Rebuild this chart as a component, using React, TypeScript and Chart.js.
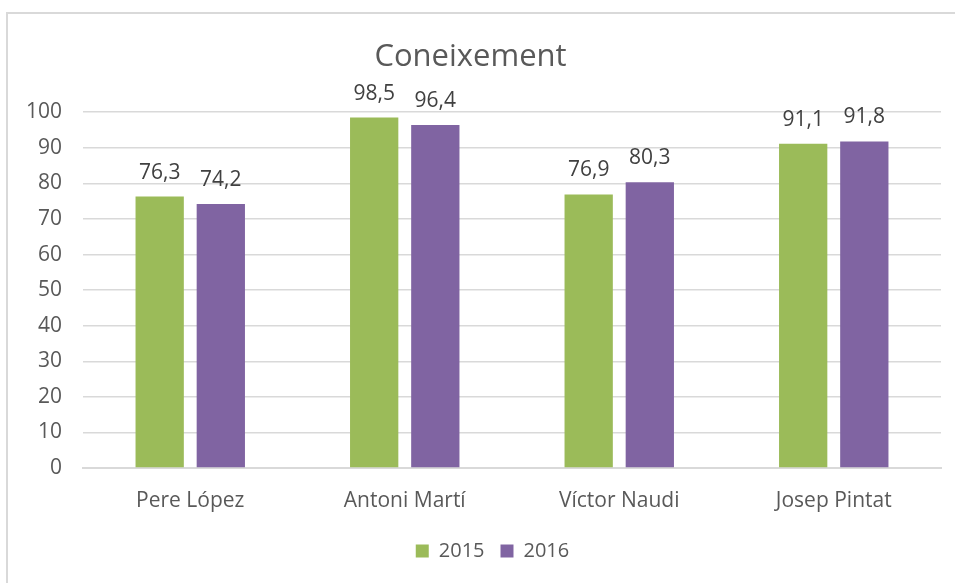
import React, { useEffect, useRef } from "react";
import { Chart, registerables } from "chart.js";

Chart.register(...registerables);

const categories = ["Pere López", "Antoni Martí", "Víctor Naudi", "Josep Pintat"];
const series2015 = [76.3, 98.5, 76.9, 91.1];
const series2016 = [74.2, 96.4, 80.3, 91.8];
const seriesLabels = ["2015", "2016"];
const chartTitle = "Coneixement";

const FONT = "'Open Sans', sans-serif";

const dataLabelPlugin = {
  id: "dataLabels",
  afterDatasetsDraw(chart: any) {
    const ctx = chart.ctx;
    ctx.save();
    ctx.fillStyle = "#404040";
    ctx.font = `21px ${FONT}`;
    ctx.textAlign = "center";
    ctx.textBaseline = "alphabetic";
    chart.data.datasets.forEach((ds: any, i: number) => {
      const meta = chart.getDatasetMeta(i);
      meta.data.forEach((bar: any, j: number) => {
        const v = ds.data[j];
        ctx.fillText(v.toFixed(1).replace(".", ","), bar.x, bar.y - 18);
      });
    });
    ctx.restore();
  },
};

const legendShiftPlugin = {
  id: "legendShift",
  afterLayout(chart: any) {
    if (chart.legend) {
      chart.legend.left += 22;
      chart.legend.right += 22;
    }
  },
};

export default function App() {
  const ref = useRef<HTMLCanvasElement>(null);
  useEffect(() => {
    if (!ref.current) return;
    const chart = new Chart(ref.current, {
      type: "bar",
      data: {
        labels: categories,
        datasets: [
          { label: seriesLabels[0], data: series2015, backgroundColor: "#9BBB59", categoryPercentage: 0.57, barPercentage: 0.79 },
          { label: seriesLabels[1], data: series2016, backgroundColor: "#8064A2", categoryPercentage: 0.57, barPercentage: 0.79 },
        ],
      },
      options: {
        animation: false,
        responsive: false,
        maintainAspectRatio: false,
        layout: { padding: { left: 0, right: 14, top: 0, bottom: 12 } },
        scales: {
          x: {
            grid: { display: false, drawTicks: false },
            border: { display: true, color: "#d9d9d9", width: 2 },
            ticks: { color: "#595959", font: { family: FONT, size: 21 }, padding: 20 },
            afterFit: (s: any) => { s.height = 57; },
          },
          y: {
            min: 0,
            max: 100,
            grid: { color: "#d9d9d9", lineWidth: 1.5, drawTicks: false },
            border: { display: false },
            ticks: { stepSize: 10, color: "#595959", font: { family: FONT, size: 21 }, padding: 21 },
            afterFit: (s: any) => { s.width = 83; },
          },
        },
        plugins: {
          title: {
            display: true,
            text: chartTitle,
            color: "#595959",
            font: { family: FONT, size: 31, weight: "normal" },
            padding: { top: 39, bottom: 36 },
          },
          legend: {
            position: "bottom",
            labels: {
              boxWidth: 13,
              boxHeight: 13,
              color: "#595959",
              font: { family: FONT, size: 20 },
              padding: 16,
            },
          },
          tooltip: { enabled: false },
        },
      },
      plugins: [dataLabelPlugin, legendShiftPlugin],
    });
    return () => chart.destroy();
  }, []);
  return (
    <div style={{ position: "fixed", left: 0, top: 0, width: 955, height: 583, overflow: "hidden", background: "#fff" }}>
      <div style={{ position: "absolute", left: 6, top: 12, width: 1000, height: 700, borderTop: "2px solid #d9d9d9", borderLeft: "2px solid #d9d9d9" }} />
      <canvas ref={ref} width={955} height={583} style={{ position: "absolute", left: 0, top: 0 }} />
    </div>
  );
}
